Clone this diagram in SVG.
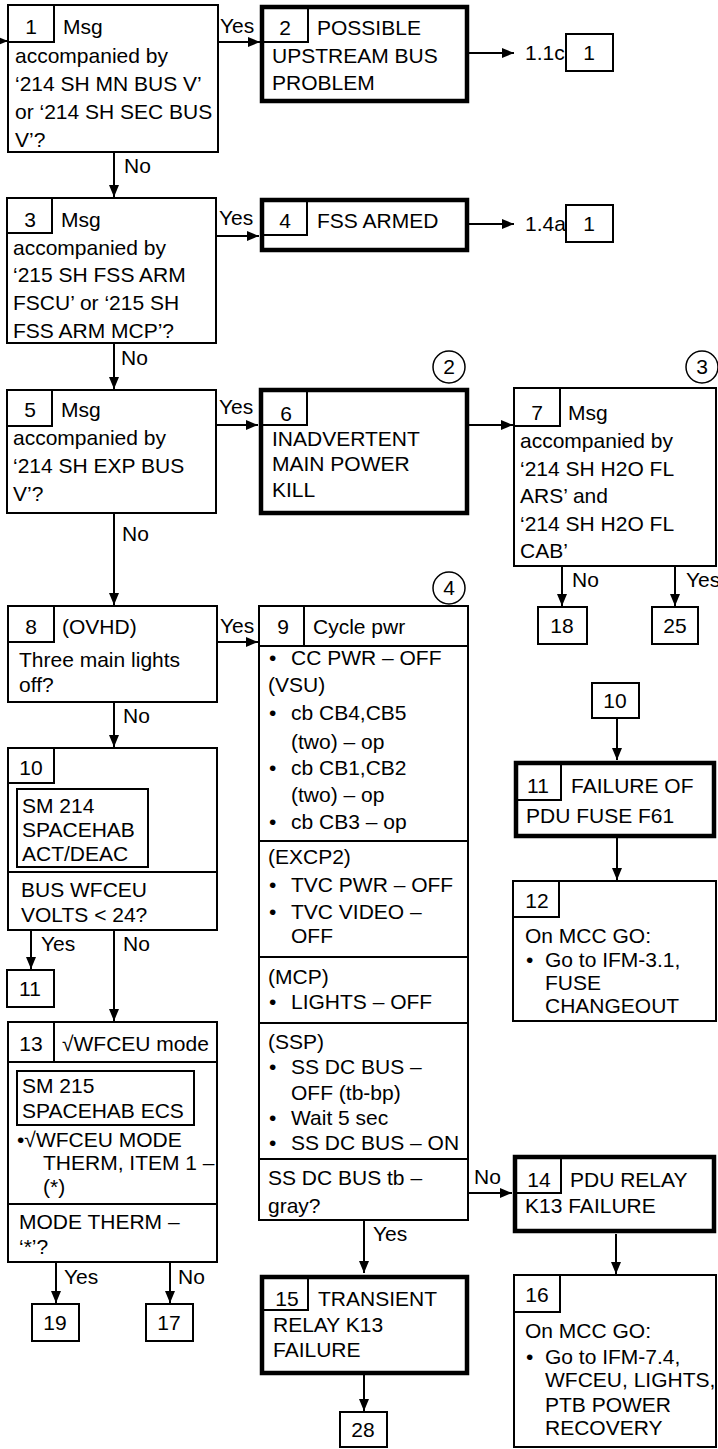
<svg xmlns="http://www.w3.org/2000/svg" width="718" height="1449" viewBox="0 0 718 1449">
<style>
text{font-family:"Liberation Sans",Arial,sans-serif;font-size:21px;fill:#000}
.b{fill:#fff;stroke:#000;stroke-width:2}
.t{fill:#fff;stroke:#000;stroke-width:4.5}
.l{fill:none;stroke:#000;stroke-width:2}
.c{text-anchor:middle}
</style>
<defs>
<marker id="ah" markerWidth="12" markerHeight="10" refX="12" refY="5" orient="auto" markerUnits="userSpaceOnUse">
<path d="M0,0 L12,5 L0,10 z" fill="#000"/>
</marker>
</defs>
<rect width="718" height="1449" fill="#fff"/>

<g id="connectors" fill="none" stroke="#000" stroke-width="2">
<line x1="0" y1="41" x2="8" y2="41" marker-end="url(#ah)"/>
<line x1="218" y1="42" x2="260" y2="42" marker-end="url(#ah)"/>
<line x1="468" y1="53" x2="514" y2="53" marker-end="url(#ah)"/>
<line x1="114" y1="152" x2="114" y2="197" marker-end="url(#ah)"/>
<line x1="216" y1="236" x2="259" y2="236" marker-end="url(#ah)"/>
<line x1="468" y1="224" x2="514" y2="224" marker-end="url(#ah)"/>
<line x1="114" y1="343" x2="114" y2="389" marker-end="url(#ah)"/>
<line x1="216" y1="425" x2="258" y2="425" marker-end="url(#ah)"/>
<line x1="469" y1="425" x2="513" y2="425" marker-end="url(#ah)"/>
<line x1="562" y1="566" x2="562" y2="606" marker-end="url(#ah)"/>
<line x1="675" y1="566" x2="675" y2="606" marker-end="url(#ah)"/>
<line x1="114" y1="513" x2="114" y2="605" marker-end="url(#ah)"/>
<line x1="217" y1="642" x2="258" y2="642" marker-end="url(#ah)"/>
<line x1="114" y1="702" x2="114" y2="747" marker-end="url(#ah)"/>
<line x1="31" y1="930" x2="31" y2="969" marker-end="url(#ah)"/>
<line x1="114" y1="930" x2="114" y2="1021" marker-end="url(#ah)"/>
<line x1="56" y1="1262" x2="56" y2="1303" marker-end="url(#ah)"/>
<line x1="170" y1="1262" x2="170" y2="1303" marker-end="url(#ah)"/>
<line x1="617" y1="718" x2="617" y2="760" marker-end="url(#ah)"/>
<line x1="617" y1="838" x2="617" y2="880" marker-end="url(#ah)"/>
<line x1="468" y1="1193" x2="512" y2="1193" marker-end="url(#ah)"/>
<line x1="616" y1="1234" x2="616" y2="1274" marker-end="url(#ah)"/>
<line x1="364" y1="1220" x2="364" y2="1273" marker-end="url(#ah)"/>
<line x1="364" y1="1375" x2="364" y2="1411" marker-end="url(#ah)"/>
</g>

<g id="labels">
<text x="220" y="33">Yes</text>
<text x="124" y="173">No</text>
<text x="219" y="225">Yes</text>
<text x="121" y="365">No</text>
<text x="219" y="414">Yes</text>
<text x="122" y="541">No</text>
<text x="220" y="633">Yes</text>
<text x="123" y="723">No</text>
<text x="572" y="587">No</text>
<text x="686" y="587">Yes</text>
<text x="41" y="951">Yes</text>
<text x="123" y="951">No</text>
<text x="64" y="1284">Yes</text>
<text x="178" y="1284">No</text>
<text x="373" y="1241">Yes</text>
<text x="474" y="1184">No</text>
<text x="525" y="60">1.1c</text>
<text x="525" y="231">1.4a</text>
</g>

<g id="n1">
<rect class="b" x="8" y="5" width="210" height="147"/>
<path class="l" d="M8,42 H54 V5"/>
<text x="31" y="34" class="c">1</text>
<text x="63" y="34">Msg</text>
<text x="15" y="63">accompanied by</text>
<text x="15" y="91">‘214 SH MN BUS V’</text>
<text x="15" y="119">or ‘214 SH SEC BUS</text>
<text x="15" y="147">V’?</text>
</g>

<g id="n2">
<rect class="t" x="262" y="7" width="205" height="94"/>
<path class="l" d="M262,42 H308 V7"/>
<text x="285" y="35" class="c">2</text>
<text x="317" y="35">POSSIBLE</text>
<text x="272" y="63">UPSTREAM BUS</text>
<text x="272" y="90">PROBLEM</text>
</g>

<g id="r1a">
<rect class="b" x="566" y="34" width="47" height="37"/>
<text x="589" y="60" class="c">1</text>
</g>

<g id="n3">
<rect class="b" x="7" y="198" width="209" height="145"/>
<path class="l" d="M7,233 H52 V198"/>
<text x="30" y="227" class="c">3</text>
<text x="61" y="227">Msg</text>
<text x="13" y="255">accompanied by</text>
<text x="13" y="282">‘215 SH FSS ARM</text>
<text x="13" y="310">FSCU’ or ‘215 SH</text>
<text x="13" y="338">FSS ARM MCP’?</text>
</g>

<g id="n4">
<rect class="t" x="262" y="200" width="205" height="50"/>
<path class="l" d="M262,235 H307 V200"/>
<text x="285" y="228" class="c">4</text>
<text x="317" y="228">FSS ARMED</text>
</g>

<g id="r1b">
<rect class="b" x="566" y="205" width="47" height="37"/>
<text x="589" y="231" class="c">1</text>
</g>

<g id="n5">
<rect class="b" x="7" y="390" width="209" height="123"/>
<path class="l" d="M7,426 H52 V390"/>
<text x="30" y="417" class="c">5</text>
<text x="61" y="417">Msg</text>
<text x="13" y="445">accompanied by</text>
<text x="13" y="473">‘214 SH EXP BUS</text>
<text x="13" y="501">V’?</text>
</g>

<g id="n6">
<rect class="t" x="261" y="390" width="206" height="123"/>
<path class="l" d="M261,425 H307 V390"/>
<text x="286" y="421" class="c">6</text>
<text x="272" y="446">INADVERTENT</text>
<text x="272" y="471">MAIN POWER</text>
<text x="272" y="497">KILL</text>
<circle cx="449" cy="367" r="16" fill="#fff" stroke="#000" stroke-width="1.5"/>
<text x="449" y="374" class="c">2</text>
</g>

<g id="n7">
<rect class="b" x="514" y="388" width="202" height="178"/>
<path class="l" d="M514,426 H560 V388"/>
<text x="537" y="420" class="c">7</text>
<text x="568" y="420">Msg</text>
<text x="520" y="448">accompanied by</text>
<text x="520" y="476">‘214 SH H2O FL</text>
<text x="520" y="503">ARS’ and</text>
<text x="520" y="531">‘214 SH H2O FL</text>
<text x="520" y="558">CAB’</text>
<circle cx="702" cy="367" r="16" fill="#fff" stroke="#000" stroke-width="1.5"/>
<text x="702" y="374" class="c">3</text>
</g>

<g id="r18">
<rect class="b" x="538" y="607" width="49" height="37"/>
<text x="562" y="633" class="c">18</text>
</g>
<g id="r25">
<rect class="b" x="652" y="607" width="46" height="37"/>
<text x="675" y="633" class="c">25</text>
</g>

<g id="n8">
<rect class="b" x="8" y="606" width="209" height="96"/>
<path class="l" d="M8,642 H54 V606"/>
<text x="31" y="634" class="c">8</text>
<text x="62" y="634">(OVHD)</text>
<text x="19" y="667">Three main lights</text>
<text x="19" y="692">off?</text>
</g>

<g id="n9">
<rect class="b" x="259" y="606" width="209" height="614"/>
<path class="l" d="M259,646 H468 M304,606 V646 M259,841 H468 M259,957 H468 M259,1023 H468 M259,1159 H468"/>
<text x="283" y="634" class="c">9</text>
<text x="313" y="634">Cycle pwr</text>
<text x="269" y="665">•</text><text x="291" y="665">CC PWR – OFF</text>
<text x="268" y="692">(VSU)</text>
<text x="269" y="720">•</text><text x="291" y="720">cb CB4,CB5</text>
<text x="291" y="749">(two) – op</text>
<text x="269" y="775">•</text><text x="291" y="775">cb CB1,CB2</text>
<text x="291" y="802">(two) – op</text>
<text x="269" y="829">•</text><text x="291" y="829">cb CB3 – op</text>
<text x="268" y="864">(EXCP2)</text>
<text x="269" y="892">•</text><text x="291" y="892">TVC PWR – OFF</text>
<text x="269" y="919">•</text><text x="291" y="919">TVC VIDEO –</text>
<text x="291" y="943">OFF</text>
<text x="268" y="984">(MCP)</text>
<text x="269" y="1009">•</text><text x="291" y="1009">LIGHTS – OFF</text>
<text x="268" y="1049">(SSP)</text>
<text x="269" y="1074">•</text><text x="291" y="1074">SS DC BUS –</text>
<text x="291" y="1100">OFF (tb-bp)</text>
<text x="269" y="1125">•</text><text x="291" y="1125">Wait 5 sec</text>
<text x="269" y="1150">•</text><text x="291" y="1150">SS DC BUS – ON</text>
<text x="268" y="1185">SS DC BUS tb –</text>
<text x="268" y="1213">gray?</text>
<circle cx="449" cy="588" r="16" fill="#fff" stroke="#000" stroke-width="1.5"/>
<text x="449" y="595" class="c">4</text>
</g>

<g id="n10">
<rect class="b" x="8" y="748" width="209" height="182"/>
<path class="l" d="M8,783 H54 V748 M8,872 H217"/>
<rect class="b" x="17" y="789" width="131" height="78"/>
<text x="31" y="775" class="c">10</text>
<text x="22" y="813">SM 214</text>
<text x="22" y="837">SPACEHAB</text>
<text x="22" y="861">ACT/DEAC</text>
<text x="21" y="897">BUS WFCEU</text>
<text x="21" y="922">VOLTS &lt; 24?</text>
</g>

<g id="r11">
<rect class="b" x="7" y="970" width="47" height="37"/>
<text x="30" y="996" class="c">11</text>
</g>

<g id="n13">
<rect class="b" x="8" y="1022" width="209" height="240"/>
<path class="l" d="M8,1062 H217 M54,1022 V1062 M8,1204 H217"/>
<rect class="b" x="17" y="1071" width="177" height="54"/>
<text x="31" y="1051" class="c">13</text>
<text x="62" y="1051">√WFCEU mode</text>
<text x="22" y="1093">SM 215</text>
<text x="22" y="1118">SPACEHAB ECS</text>
<text x="17" y="1147">•√WFCEU MODE</text>
<text x="43" y="1170">THERM, ITEM 1 –</text>
<text x="43" y="1194">(*)</text>
<text x="19" y="1229">MODE THERM –</text>
<text x="19" y="1254">‘*’?</text>
</g>

<g id="r19">
<rect class="b" x="32" y="1304" width="47" height="37"/>
<text x="55" y="1330" class="c">19</text>
</g>
<g id="r17">
<rect class="b" x="146" y="1304" width="47" height="37"/>
<text x="169" y="1330" class="c">17</text>
</g>

<g id="r10">
<rect class="b" x="592" y="683" width="47" height="35"/>
<text x="615" y="708" class="c">10</text>
</g>

<g id="n11">
<rect class="t" x="516" y="763" width="198" height="73"/>
<path class="l" d="M516,800 H561 V763"/>
<text x="538" y="793" class="c">11</text>
<text x="571" y="793">FAILURE OF</text>
<text x="526" y="823">PDU FUSE F61</text>
</g>

<g id="n12">
<rect class="b" x="513" y="881" width="203" height="140"/>
<path class="l" d="M513,917 H559 V881"/>
<text x="537" y="908" class="c">12</text>
<text x="525" y="943">On MCC GO:</text>
<text x="526" y="967">•</text><text x="545" y="967">Go to IFM-3.1,</text>
<text x="545" y="990">FUSE</text>
<text x="545" y="1013">CHANGEOUT</text>
</g>

<g id="n14">
<rect class="t" x="515" y="1157" width="199" height="74"/>
<path class="l" d="M515,1193 H561 V1157"/>
<text x="539" y="1187" class="c">14</text>
<text x="570" y="1187">PDU RELAY</text>
<text x="525" y="1213">K13 FAILURE</text>
</g>

<g id="n16">
<rect class="b" x="514" y="1275" width="202" height="172"/>
<path class="l" d="M514,1312 H560 V1275"/>
<text x="537" y="1302" class="c">16</text>
<text x="525" y="1338">On MCC GO:</text>
<text x="526" y="1364">•</text><text x="545" y="1364">Go to IFM-7.4,</text>
<text x="545" y="1387">WFCEU, LIGHTS,</text>
<text x="545" y="1412">PTB POWER</text>
<text x="545" y="1435">RECOVERY</text>
</g>

<g id="n15">
<rect class="t" x="262" y="1277" width="205" height="96"/>
<path class="l" d="M262,1310 H308 V1277"/>
<text x="287" y="1306" class="c">15</text>
<text x="318" y="1306">TRANSIENT</text>
<text x="273" y="1332">RELAY K13</text>
<text x="273" y="1357">FAILURE</text>
</g>

<g id="r28">
<rect class="b" x="340" y="1412" width="47" height="35"/>
<text x="363" y="1437" class="c">28</text>
</g>
</svg>
